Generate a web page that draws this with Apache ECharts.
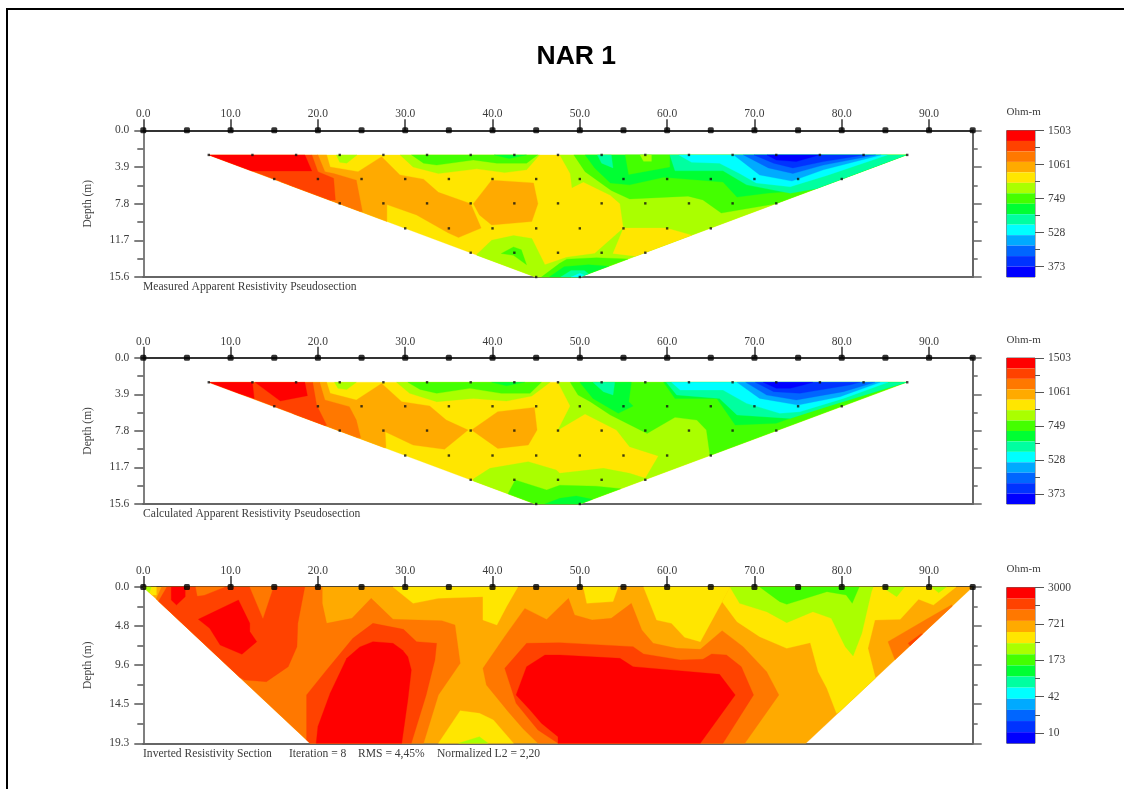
<!DOCTYPE html>
<html><head><meta charset="utf-8">
<style>html,body{margin:0;padding:0;background:#fff;overflow:hidden}#c{width:1131px;height:789px;filter:blur(0.45px)}
#f{position:absolute;left:6px;top:8px;width:1116px;height:790px;border-left:2px solid #000;border-top:2px solid #000}</style>
<script src="https://cdn.jsdelivr.net/npm/echarts@6/dist/echarts.min.js"></script>
</head><body><div id="c"></div><div id="f"></div>
<script>
// ---------- colour scale, top (high resistivity) to bottom (low) ----------
const bandColors = ['#ff0000','#ff4200','#ff7800','#ffaa00','#ffe600','#aaff00','#44ff00','#00ff33','#00ffa0','#00ffff','#00aaff','#0066ff','#0033ff','#0000ff'];
const apparentScaleLabels = ['1503','1061','749','528','373'];
const invertedScaleLabels = ['3000','721','173','42','10'];

// ---------- axes ----------
const distanceTicks = [0,10,20,30,40,50,60,70,80,90];
const electrodes = [0,5,10,15,20,25,30,35,40,45,50,55,60,65,70,75,80,85,90,95];
const apparentDepths = ['0.0','3.9','7.8','11.7','15.6'];
const invertedDepths = ['0.0','4.8','9.6','14.5','19.3'];

// ---------- data points of the pseudosections: [depth, x...] ----------
const dataLevels = [
  [2.62, 7.5,12.5,17.5,22.5,27.5,32.5,37.5,42.5,47.5,52.5,57.5,62.5,67.5,72.5,77.5,82.5,87.5],
  [5.18, 15,20,25,30,35,40,45,50,55,60,65,70,75,80],
  [7.77, 22.5,27.5,32.5,37.5,42.5,47.5,52.5,57.5,62.5,67.5,72.5],
  [10.43, 30,35,40,45,50,55,60,65],
  [13.02, 37.5,42.5,47.5,52.5,57.5],
  [15.6, 45,50]
];

// ---------- section outlines (x, depth) ----------
const apparentOutline = [7.5,2.62, 87.4,2.62, 50,15.6, 44.9,15.6];
const invertedOutline = [0,0, 95,0, 75.9,19.3, 19.1,19.3];

// ---------- contour bands: [colour index, x,depth,...], painted in order ----------
const measuredBands = [
 [4,[7,2.6,88,2.6,50,15.6,44.9,15.6]],
 [5,[47.7,2.6,48.9,4.6,49.1,6.1,50.4,5.5,53.5,6.9,54.6,7.8,55,10.4,51.7,13.1,48.5,13.5,46,14.3,44.5,11.5,42.4,11.2,39.9,11.7,38.2,13.2,38.2,16,65,16,93.5,2.6]],
 [4,[55,10.4,59.9,10.4,63,11.2,57.5,13.5,53.8,13.1]],
 [6,[49.3,2.6,50.6,4.4,53.6,6.4,55.7,7.3,62.4,7,64.1,7.4,66.2,8.8,72.5,7.8,74,8.9,89.7,2.6]],
 [7,[50.6,2.6,51.7,4,53.5,5.6,55.7,5.8,59.6,5,66.4,5.5,68,7.1,71.4,6.7,76.7,6.3,89.7,2.6]],
 [6,[55.2,2.6,55.6,4.7,60.3,3.9,60.3,2.6]],
 [5,[56.9,2.6,58.2,2.6,58.2,3.3,57.3,3.3]],
 [8,[52,2.6,53.6,2.6,53.8,4,52.5,3.5]],
 [8,[60.3,2.6,60.9,4.3,66.4,4.3,69.1,5.8,74.1,6.7,78.3,6,87.4,2.6]],
 [9,[61.3,2.6,62.8,3.4,66,3.5,68.3,4.6,70.2,5.6,74.1,6,78.3,4.8,85.3,2.6]],
 [10,[67.6,2.6,70.6,4.75,74.3,5.4,77.9,4.2,84.6,2.6]],
 [11,[68.7,2.6,71.6,4,74.4,4.6,77.9,3.7,84,2.6]],
 [12,[69.9,2.6,72.2,3.5,74.4,4,77.9,3.33,82.8,2.6]],
 [13,[71.4,2.6,72.5,3.16,74.8,3.33,77.5,2.6]],
 [5,[22.1,2.6,24.5,2.6,23.3,3.5,22.5,3.4]],
 [5,[29.4,2.6,30.9,3.9,33.8,4.6,38.2,4.1,41.4,4.5,43.9,4.2,45.4,2.6]],
 [6,[30.7,2.6,32.1,3.5,33.6,3.7,37.8,3.16,40.5,3.5,43.9,3.5,45.2,2.6]],
 [7,[40.1,2.6,41.9,3,44,2.6]],
 [3,[20,2.6,21,2.6,21.4,3.9,24.6,4.4,27.3,2.8,29.4,4.75,32.1,5.2,33.8,6.6,37.5,7.8,38.7,10.4,36.1,11.4,34.9,10.9,31.3,9,27.9,7.9,27.9,10,15,6]],
 [3,[37.8,7.8,39.9,5.3,44.7,5.6,45.2,7.8,44.5,9.7,39.9,10.07,38.5,9]],
 [2,[19.3,2.6,20,2.6,20.8,4.4,21.8,4.6,24.4,5.3,25.1,8.65,15,8]],
 [1,[18.5,2.6,19.3,2.6,20,4.4,21.8,5.1,22,7.4,15,8,7,2.6]],
 [0,[7,2.6,18.5,2.6,19.3,4.33,12.4,4.33]],
 [6,[41,13.1,42.4,12.4,43.3,12.7,43.9,14.3,42.4,13.3]],
 [6,[45.6,15.6,47.7,14.15,48.5,13.7,51.9,13.55,56,13.7,56,16,45.6,16]],
 [7,[46.5,15.6,48.2,14.5,51,14.3,54,14.5,52,16]],
 [8,[47.8,15.6,49,14.9,50.5,14.9,51.5,15.6]],
 [9,[49,15.6,50,15.2,51,15.6]]
];
const calculatedBands = [
 [4,[7,2.6,88,2.6,50,15.6,44.9,15.6]],
 [5,[47.5,2.63,48.9,5.15,47.5,7.71,50.6,6,54.2,7.71,55.7,9.49,59,10.48,57.5,12.86,55.7,12.33,52.7,11.8,47.7,12.33,47.3,11.98,44.1,11.09,39.7,11.8,37.8,12.94,37.8,16,65,16,93.5,2.63]],
 [6,[41.5,15,42.6,13.04,46.2,14.1,47.7,13.6,51.9,13.7,56,14.1,56,16,41.5,16]],
 [7,[46,15.6,47.7,15,49.6,14.75,51.9,15.2,50.6,16,46,16]],
 [6,[48.9,2.63,49.8,3.98,51.2,4.69,53.5,6.11,57.7,8.07,60.9,6.36,63.4,6.65,64.5,7.71,64.9,10.38,65,12,93.5,2.63]],
 [7,[50,2.63,51.5,4.34,54.4,5.93,56.1,5.15,55.6,4.69,55.9,2.63]],
 [7,[59.6,2.63,60.9,4.34,65.7,4.34,67.8,7.18,72.5,7,76.7,5.58,87.4,2.63]],
 [8,[51.5,2.63,54,2.63,53.8,3.98,52.7,3.62]],
 [8,[59.9,2.63,61.1,3.98,66,4.34,68,6.11,74.1,6.47,78.3,5.22,87.4,2.63]],
 [9,[60.5,2.63,61.5,3.45,66.4,3.45,69.1,4.87,72.9,5.93,75.2,5.76,80.2,4.34,85.3,2.63]],
 [10,[68,2.63,70.6,4.34,75,5.05,79.8,4.16,84.4,2.63]],
 [11,[69,2.63,71.4,3.98,74.8,4.51,80.2,3.62,83.8,2.63]],
 [12,[70.1,2.63,72.2,3.62,75.2,3.8,80.9,2.91,82.1,2.63]],
 [13,[71,2.63,72.5,3.27,74.1,3.27,75.6,2.91,76.7,2.63]],
 [5,[21.9,2.63,24.4,2.63,23.3,3.38,22.3,3.27]],
 [5,[29,2.63,30.5,3.8,33.6,4.69,37.8,4.34,41.6,4.62,44.5,4.09,46.6,2.63]],
 [6,[30.3,2.63,31.7,3.38,33.6,3.8,37.4,3.27,41,3.8,44.3,3.8,45.6,2.63]],
 [7,[39.9,2.63,41.6,3,43.7,2.63]],
 [3,[20.2,2.63,21,2.63,21.4,3.8,24.4,4.51,27.3,2.74,29.6,4.69,32.8,5.15,34.7,6.65,37.2,7.71,34.5,9.77,30.9,9.31,27.7,7.89,27.8,9.6,15,9]],
 [3,[37.6,7.71,40.6,5.76,44.8,5.3,45.1,7.71,44.1,9.31,40.6,9.67]],
 [2,[19.4,2.63,20.2,2.63,20.8,4.51,23.6,5.22,24.4,6.65,24.9,8.53,15,9]],
 [1,[7,2.63,19.4,2.63,19.85,5.05,21,7.2,15,9]],
 [0,[7,2.63,12.5,2.63,12.7,4.34]],
 [0,[12.8,2.63,18.5,2.63,18.8,4.05,15.7,4.62]]
];
const invertedBands = [
 [3,[0,0,95,0,75.9,19.3,19.1,19.3]],
 [4,[0,0,1.5,0,1.5,1,0,1]],
 [5,[0,0,0.9,0,0.7,0.7]],
 [2,[2.1,0,20.5,0,20.5,2.02,21,4.49,23.9,3.87,26.1,1.4,28.6,3.99,34.2,4.16,35.7,4.69,36.3,9.42,33.8,13.33,32.1,19.3,15,19.3,0,5]],
 [1,[2.7,0,18.5,0,17.7,4.49,17.6,7.37,16.6,9.84,14.1,11.69,11.6,11.48,0,5]],
 [2,[6,0,9.3,0,7,1,6.2,1.1]],
 [2,[12.2,0,14.9,0,13.7,3.87]],
 [0,[3.2,0,4.8,0,4.8,1.19,3.8,2.22,3.2,1.6]],
 [0,[6.3,3.99,10.9,1.6,12.2,4.49,12.2,5.51,13,6.75,11.3,8.31,8.8,7.16,7.6,5.1]],
 [1,[18.7,19.3,18.7,13.33,21,10.25,24,6.34,26.3,4.49,29.8,5.23,31.3,6.75,33.6,6.95,33.4,9.01,32.4,13.33,30.7,19.3]],
 [0,[19.8,19.3,20,17.24,21.4,13.13,23.3,8.81,24.8,7.4,26.3,6.75,28.6,6.95,29.7,7.8,30.3,8.6,30.7,10.25,30.3,13.95,29.6,19.3]],
 [4,[28.6,0,30.9,2.02,33.8,1.4,38.9,1.19,38.9,4.07,40.5,4.69,41.6,2.43,42.9,0]],
 [4,[33.8,19.3,36.3,15.27,38.5,15.6,40.1,16.42,42.4,19.3]],
 [5,[36.1,19.3,38.5,18.48,39.5,19.3]],
 [2,[38.9,10.04,41.4,6.1,43.7,2.64,46.2,4,48.7,1.4,49.4,3.46,51.4,4.07,53.6,3.87,55.9,2.02,57.1,5.31,58.4,6.95,61.1,7.57,63.8,7.7,66.3,5.39,68.7,7.37,71.4,10.45,72.8,13.33,68.9,19.3,45.2,19.3,43.5,17.5,41.8,15.39,39.3,12.1]],
 [1,[41.4,10.04,43.9,6.95,47.7,6.87,56.1,7.37,57.3,8.27,61.5,9.01,64.1,8.93,65.1,8.27,66.8,8.4,68.5,9.84,69.9,13.33,66.4,19.3,47.5,19.3,45.2,17.65,42.7,14.36]],
 [0,[42.7,13.33,43.9,9.84,46,8.4,47.7,8.4,54.6,8.81,56.1,9.84,66,10.78,67.8,13.33,63.8,19.3,47.5,19.3,47.5,18.48,45.6,16.83,44.3,15.19]],
 [4,[50.4,0,50.8,2.02,53.8,1.8,54.4,0]],
 [4,[57.3,0,58.8,4.07,60.5,4.49,62,6.21,63.8,6.75,66.3,1.81,67.2,0]],
 [4,[67.2,0,66.3,1.81,68,4.28,70.6,6.13,73.7,7.57,76.4,6.87,77.3,10.45,78.3,12.51,79.4,15.6,84.4,13.13,83.8,10.99,83,7.57,83.8,4.07,86.7,3.99,88.8,1.52,90.5,2.22,93.1,0]],
 [5,[67.2,0,68.3,2.02,71.4,3.05,73.7,4.4,76.7,3.05,78.8,3.87,80.4,7.37,81.3,8.52,82.3,5.72,83.4,0.58,83.6,0]],
 [6,[70.6,0,72.9,1.81,73.7,2.14,78.3,0.58,80.5,0.99,81.2,2.02,82,0]],
 [5,[84.6,0,86.3,1.19,87.2,0]],
 [5,[90.3,0,91.1,0.7,92,0]],
 [2,[85.3,6.75,89.9,3.87,92.6,2.2,94,6,88,10,86.1,9.01]],
 [1,[87.6,6.95,89.1,5.76,90,6,88,7.5]]
];

// ---------- text ----------
const chartTitle = 'NAR 1';
const unitLabel = 'Ohm-m';
const captions = [
  ['Measured Apparent Resistivity Pseudosection',143,286],
  ['Calculated Apparent Resistivity Pseudosection',143,513.3],
  ['Inverted Resistivity Section',143,753],
  ['Iteration = 8',289,753],
  ['RMS = 4,45%',358,753],
  ['Normalized L2 = 2,20',437,753]
];

// ---------- layout ----------
const panels = [
 {top:130.3,h:146.7,maxDepth:15.6,bands:measuredBands,outline:apparentOutline,depths:apparentDepths,scale:apparentScaleLabels,cbTop:130.5,cbH:146.5,step:17,unitY:111,points:true},
 {top:357.7,h:146.3,maxDepth:15.6,bands:calculatedBands,outline:apparentOutline,depths:apparentDepths,scale:apparentScaleLabels,cbTop:358,cbH:146,step:17,unitY:339,points:true},
 {top:587,h:156.3,maxDepth:19.3,bands:invertedBands,outline:invertedOutline,depths:invertedDepths,scale:invertedScaleLabels,cbTop:587.5,cbH:155.8,step:18.2,unitY:568,points:false}
];
const SERIF='"Liberation Serif","Times New Roman",serif';
const TXT='#3c3c3c';

function pairs(f){const o=[];for(let i=0;i<f.length;i+=2)o.push([f[i],f[i+1]]);return o;}
function clipToOutline(poly,outline){
  const cl=pairs(outline);
  const cx=cl.reduce((a,p)=>a+p[0],0)/cl.length, cy=cl.reduce((a,p)=>a+p[1],0)/cl.length;
  let out=poly;
  for(let i=0;i<cl.length&&out.length;i++){
    const a=cl[i],b=cl[(i+1)%cl.length];
    const side=p=>(b[0]-a[0])*(p[1]-a[1])-(b[1]-a[1])*(p[0]-a[0]);
    const s=Math.sign(side([cx,cy]));
    const inp=out;out=[];
    for(let j=0;j<inp.length;j++){
      const p=inp[j],q=inp[(j+1)%inp.length];
      const sp=side(p)*s,sq=side(q)*s;
      if(sp>=0)out.push(p);
      if((sp>=0)!==(sq>=0)){const t=sp/(sp-sq);out.push([p[0]+t*(q[0]-p[0]),p[1]+t*(q[1]-p[1])]);}
    }
  }
  return out;
}

const grid=[],xAxis=[],yAxis=[],series=[],graphic=[];
const L=143.3,W=829.4;
panels.forEach((P,i)=>{
  const g=grid.length;
  grid.push({left:L,top:P.top,width:W,height:P.h,containLabel:false});
  const x0=xAxis.length,y0=yAxis.length;
  xAxis.push({gridIndex:g,type:'value',position:'top',min:0,max:95,splitLine:{show:false},
    axisLine:{onZero:false,lineStyle:{color:'#333',width:2}},
    axisTick:{length:11,customValues:distanceTicks,lineStyle:{color:'#333',width:1.5}},
    axisLabel:{customValues:distanceTicks,margin:10,formatter:v=>v.toFixed(1),fontFamily:SERIF,fontSize:11.5,color:TXT}});
  xAxis.push({gridIndex:g,type:'value',position:'bottom',min:0,max:95,splitLine:{show:false},
    axisLine:{onZero:false,lineStyle:{color:'#666',width:2}},axisTick:{show:false},axisLabel:{show:false}});
  const interval=P.maxDepth/4;
  yAxis.push({gridIndex:g,type:'value',position:'left',inverse:true,min:0,max:P.maxDepth,interval,splitLine:{show:false},
    name:'Depth (m)',nameLocation:'middle',nameGap:49,nameRotate:90,nameTextStyle:{fontFamily:SERIF,fontSize:11.5,color:TXT},
    axisLine:{onZero:false,lineStyle:{color:'#555',width:1.5}},
    axisTick:{length:9,lineStyle:{color:'#555',width:1.5}},
    minorTick:{show:true,splitNumber:2,length:6,lineStyle:{color:'#555',width:1.5}},
    minorSplitLine:{show:false},
    axisLabel:{margin:14,formatter:(v,k)=>P.depths[Math.round(v/interval)],fontFamily:SERIF,fontSize:11.5,color:TXT}});
  yAxis.push({gridIndex:g,type:'value',position:'right',inverse:true,min:0,max:P.maxDepth,interval,splitLine:{show:false},
    axisLine:{onZero:false,lineStyle:{color:'#666',width:2}},
    axisTick:{length:9,lineStyle:{color:'#666',width:1.5}},
    minorTick:{show:true,splitNumber:2,length:5,lineStyle:{color:'#666',width:1.5}},
    axisLabel:{show:false}});
  series.push({type:'custom',xAxisIndex:x0,yAxisIndex:y0,clip:false,silent:true,z:2,
    data:P.bands.map((b,k)=>[k]),
    renderItem(params,api){
      const b=P.bands[api.value(0)];
      const pts=clipToOutline(pairs(b[1]),P.outline).map(p=>api.coord(p));
      return {type:'polygon',shape:{points:pts},style:{fill:bandColors[b[0]],stroke:bandColors[b[0]],lineWidth:0.3}};
    }});
  if(P.points){
    const pd=[];dataLevels.forEach(l=>l.slice(1).forEach(x=>pd.push([x,l[0]])));
    series.push({type:'scatter',xAxisIndex:x0,yAxisIndex:y0,clip:false,silent:true,z:5,symbol:'rect',symbolSize:2.4,
      itemStyle:{color:'#111'},data:pd});
  }
  series.push({type:'scatter',xAxisIndex:x0,yAxisIndex:y0,clip:false,silent:true,z:6,
    symbol:'roundRect',symbolSize:6,itemStyle:{color:'#000'},data:electrodes.map(x=>[x,0])});

  // colour bar
  const cg=grid.length;
  grid.push({left:1006.7,top:P.cbTop,width:28.3,height:P.cbH,show:true,borderColor:'#666',borderWidth:1,backgroundColor:'transparent'});
  const cx=xAxis.length,cy=yAxis.length;
  xAxis.push({gridIndex:cg,type:'value',min:0,max:1,show:false});
  const cats=bandColors.map((c,k)=>k);
  yAxis.push({gridIndex:cg,type:'category',inverse:true,data:cats,show:false});
  const max=P.cbH/P.step;
  const major=[0,2,4,6,8], minor=[1,3,5,7];
  yAxis.push({gridIndex:cg,type:'value',position:'right',inverse:true,min:0,max,splitLine:{show:false},
    axisLine:{show:false},
    axisTick:{length:9,customValues:major,lineStyle:{color:'#555',width:1}},
    axisLabel:{customValues:major,margin:13,formatter:v=>P.scale[v/2],fontFamily:SERIF,fontSize:11.5,color:TXT}});
  yAxis.push({gridIndex:cg,type:'value',position:'right',inverse:true,min:0,max,splitLine:{show:false},
    axisLine:{show:false},axisTick:{length:5,customValues:minor,lineStyle:{color:'#555',width:1}},axisLabel:{show:false}});
  series.push({type:'bar',xAxisIndex:cx,yAxisIndex:cy,barWidth:'100%',silent:true,z:2,
    data:bandColors.map(c=>({value:1,itemStyle:{color:c}}))});
  graphic.push({type:'text',left:1006.5,top:P.unitY-4.5,style:{text:unitLabel,font:'11px '+SERIF,fill:TXT}});
});

captions.forEach(c=>graphic.push({type:'text',left:c[1],top:c[2]-5,style:{text:c[0],font:'11.6px '+SERIF,fill:TXT}}));
graphic.push({type:'text',left:536.5,top:43,style:{text:chartTitle,font:'bold 26.5px "Liberation Sans",Arial,sans-serif',fill:'#000'}});

const chart=echarts.init(document.getElementById('c'),null,{renderer:'canvas'});
chart.setOption({animation:false,backgroundColor:'#fff',tooltip:{show:false},grid,xAxis,yAxis,series,graphic});
</script>
</body></html>
